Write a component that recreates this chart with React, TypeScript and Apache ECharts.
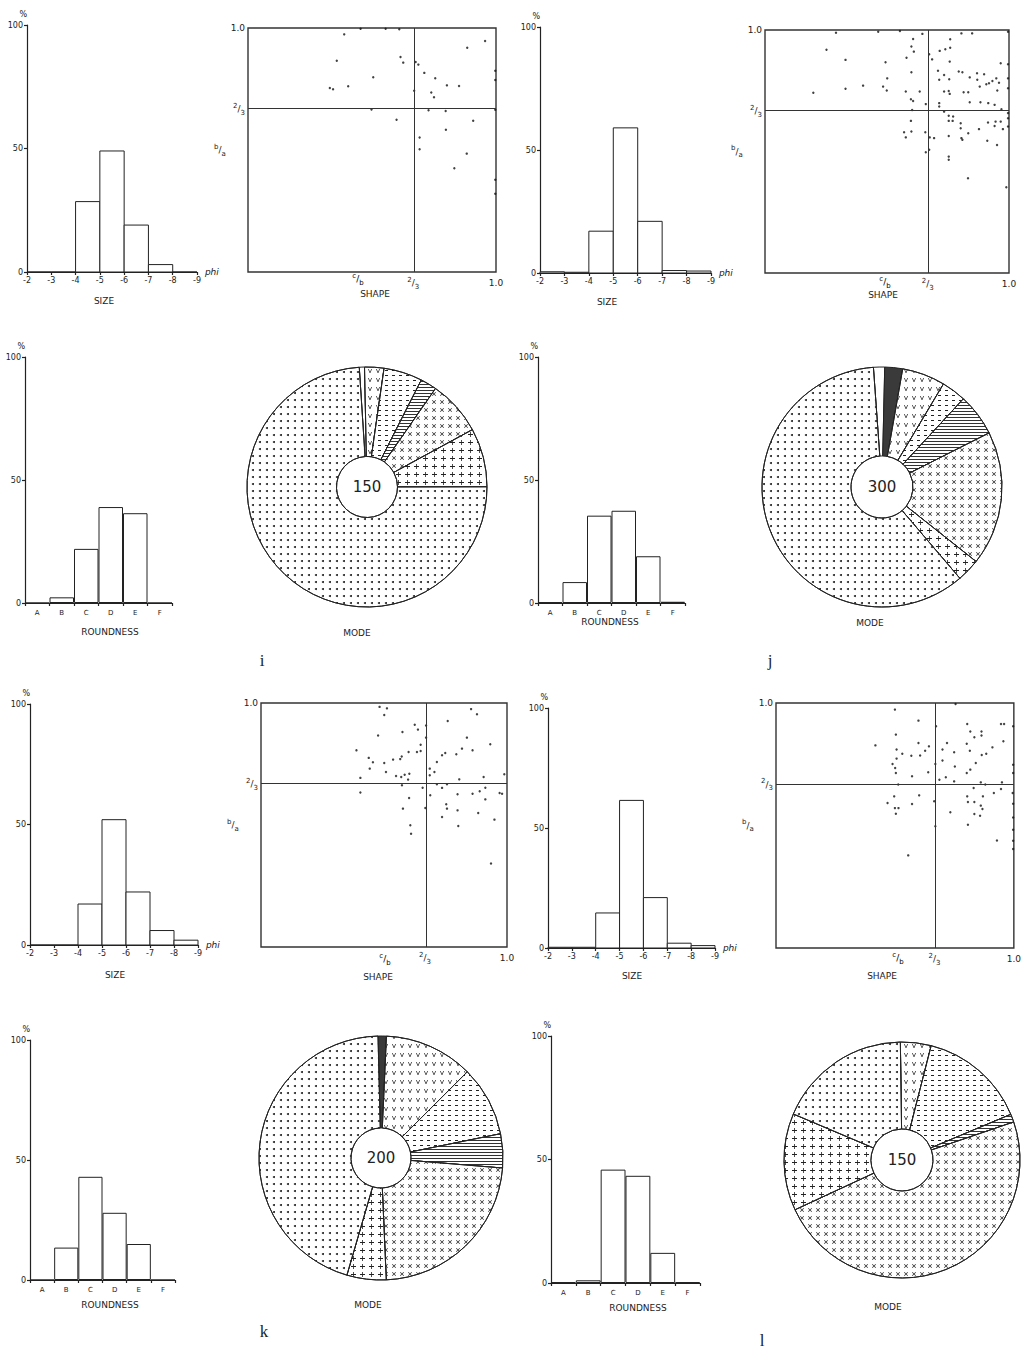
import React, { useEffect, useRef } from "react";
import * as echarts from "echarts";

// ---------- DATA ----------
const PHI_EDGES = [-2, -3, -4, -5, -6, -7, -8, -9];
const SIZE_I = [0, 0, 28.5, 49, 19, 3, 0];
const SIZE_J = [0.5, 0.3, 17, 59, 21, 1, 0.8];
const SIZE_K = [0, 0, 17, 52, 22, 6, 2];
const SIZE_L = [0.3, 0.3, 14.6, 61.5, 21, 2, 1];

const ROUND_CATS = ["A", "B", "C", "D", "E", "F"];
const ROUND_I = [0, 2.3, 22, 39, 36.5, 0];
const ROUND_J = [0.3, 8.5, 35.5, 37.5, 19, 0.5];
const ROUND_K = [0, 13.5, 43, 28, 15, 0];
const ROUND_L = [0.3, 1.1, 45.9, 43.4, 12.2, 0.3];

const MODE_CATS = ["white", "dark", "v", "dash", "hatch", "cross", "plus", "dots"];
const MODE_I = [0.7, 0, 2.6, 5.2, 2.2, 7.4, 7.9, 74];
const MODE_J = [1.5, 2.4, 5.8, 3.3, 5.7, 18.1, 3.1, 60.1];
const MODE_K = [0, 1.1, 11.8, 9.3, 4.5, 23, 5.2, 45.1];
const MODE_L = [0, 0, 4.2, 14.7, 1.1, 48.3, 13.3, 18.4];
const MODE_N = ["150", "300", "200", "150"];
// clockwise offset (deg) from 12 o'clock where the first slice begins
const MODE_START = [-3.7, -4.1, -1.4, -0.8];

const SHAPE_I = [
  [0.388, 0.974], [0.358, 0.866], [0.33, 0.754], [0.343, 0.749], [0.404, 0.761], [0.505, 0.798],
  [0.498, 0.666], [0.454, 0.997], [0.555, 0.997], [0.61, 0.995], [0.615, 0.881], [0.626, 0.858],
  [0.599, 0.624], [0.67, 0.743], [0.676, 0.861], [0.687, 0.85], [0.711, 0.816], [0.755, 0.794],
  [0.739, 0.736], [0.75, 0.716], [0.802, 0.765], [0.851, 0.762], [0.884, 0.919], [0.956, 0.947],
  [0.997, 0.825], [0.997, 0.787], [0.997, 0.665], [0.728, 0.663], [0.797, 0.66], [0.908, 0.62],
  [0.798, 0.583], [0.692, 0.551], [0.692, 0.503], [0.882, 0.485], [0.832, 0.425], [0.997, 0.378],
  [0.997, 0.321],
];
const SHAPE_J = [
  [0.291, 0.989], [0.252, 0.919], [0.33, 0.877], [0.198, 0.742], [0.33, 0.758], [0.402, 0.771],
  [0.464, 0.993], [0.494, 0.867], [0.501, 0.801], [0.484, 0.767], [0.499, 0.751], [0.553, 0.996],
  [0.607, 0.963], [0.6, 0.932], [0.61, 0.911], [0.58, 0.886], [0.6, 0.826], [0.577, 0.747],
  [0.634, 0.747], [0.598, 0.715], [0.607, 0.708], [0.603, 0.671], [0.598, 0.626], [0.57, 0.579],
  [0.6, 0.582], [0.577, 0.558], [0.645, 0.984], [0.673, 0.9], [0.685, 0.879], [0.659, 0.695],
  [0.657, 0.579], [0.675, 0.558], [0.693, 0.555], [0.659, 0.497], [0.673, 0.507], [0.716, 0.914],
  [0.739, 0.921], [0.759, 0.927], [0.759, 0.962], [0.757, 0.87], [0.709, 0.832], [0.734, 0.815],
  [0.755, 0.797], [0.714, 0.795], [0.734, 0.747], [0.753, 0.749], [0.757, 0.737], [0.714, 0.699],
  [0.714, 0.685], [0.734, 0.664], [0.753, 0.647], [0.771, 0.644], [0.753, 0.626], [0.769, 0.626],
  [0.753, 0.564], [0.753, 0.479], [0.753, 0.466], [0.805, 0.986], [0.849, 0.986], [0.794, 0.829],
  [0.809, 0.826], [0.839, 0.805], [0.814, 0.744], [0.833, 0.744], [0.839, 0.703], [0.802, 0.616],
  [0.802, 0.596], [0.805, 0.555], [0.809, 0.548], [0.833, 0.575], [0.832, 0.39], [0.869, 0.822],
  [0.898, 0.818], [0.87, 0.795], [0.88, 0.767], [0.907, 0.777], [0.918, 0.781], [0.932, 0.79],
  [0.948, 0.801], [0.959, 0.783], [0.952, 0.751], [0.966, 0.863], [0.883, 0.703], [0.915, 0.699],
  [0.941, 0.692], [0.969, 0.674], [0.877, 0.592], [0.914, 0.619], [0.945, 0.623], [0.966, 0.623],
  [0.941, 0.605], [0.975, 0.592], [0.911, 0.544], [0.951, 0.527], [0.996, 0.993], [0.996, 0.859],
  [0.996, 0.801], [0.996, 0.76], [0.996, 0.658], [0.996, 0.637], [0.996, 0.603], [0.989, 0.353],
];
const SHAPE_K = [
  [0.482, 0.984], [0.512, 0.978], [0.501, 0.951], [0.476, 0.867], [0.388, 0.806], [0.438, 0.775],
  [0.455, 0.757], [0.442, 0.731], [0.501, 0.754], [0.508, 0.717], [0.404, 0.693], [0.404, 0.633],
  [0.537, 0.768], [0.566, 0.77], [0.572, 0.781], [0.575, 0.881], [0.625, 0.911], [0.638, 0.891],
  [0.6, 0.799], [0.634, 0.799], [0.649, 0.803], [0.649, 0.829], [0.549, 0.701], [0.57, 0.697],
  [0.573, 0.663], [0.584, 0.706], [0.598, 0.686], [0.603, 0.71], [0.602, 0.611], [0.577, 0.567],
  [0.607, 0.499], [0.61, 0.464], [0.657, 0.653], [0.671, 0.858], [0.671, 0.908], [0.668, 0.57],
  [0.686, 0.731], [0.686, 0.704], [0.688, 0.622], [0.705, 0.717], [0.715, 0.758], [0.736, 0.786],
  [0.749, 0.795], [0.715, 0.667], [0.736, 0.652], [0.756, 0.667], [0.736, 0.533], [0.753, 0.585],
  [0.756, 0.567], [0.759, 0.926], [0.794, 0.79], [0.806, 0.687], [0.799, 0.626], [0.799, 0.56],
  [0.802, 0.496], [0.817, 0.813], [0.837, 0.858], [0.854, 0.975], [0.878, 0.954], [0.86, 0.806],
  [0.86, 0.628], [0.883, 0.549], [0.889, 0.638], [0.905, 0.697], [0.912, 0.653], [0.912, 0.605],
  [0.932, 0.831], [0.97, 0.631], [0.98, 0.628], [0.989, 0.708], [0.949, 0.522], [0.935, 0.342],
];
const SHAPE_L = [
  [0.5, 0.973], [0.418, 0.827], [0.504, 0.871], [0.507, 0.81], [0.507, 0.773], [0.49, 0.751],
  [0.501, 0.735], [0.504, 0.714], [0.531, 0.793], [0.569, 0.785], [0.606, 0.786], [0.599, 0.837],
  [0.627, 0.805], [0.643, 0.823], [0.599, 0.928], [0.572, 0.701], [0.64, 0.717], [0.514, 0.667],
  [0.497, 0.619], [0.469, 0.592], [0.5, 0.571], [0.515, 0.571], [0.504, 0.548], [0.572, 0.588],
  [0.602, 0.623], [0.556, 0.378], [0.673, 0.905], [0.67, 0.751], [0.665, 0.599], [0.67, 0.497],
  [0.687, 0.687], [0.7, 0.81], [0.7, 0.765], [0.719, 0.837], [0.714, 0.697], [0.749, 0.799],
  [0.752, 0.741], [0.749, 0.68], [0.733, 0.554], [0.755, 0.996], [0.804, 0.914], [0.817, 0.884],
  [0.834, 0.86], [0.864, 0.884], [0.864, 0.867], [0.802, 0.834], [0.815, 0.805], [0.802, 0.714],
  [0.817, 0.728], [0.84, 0.755], [0.865, 0.788], [0.884, 0.793], [0.91, 0.819], [0.804, 0.619],
  [0.807, 0.596], [0.831, 0.653], [0.834, 0.596], [0.834, 0.547], [0.861, 0.581], [0.87, 0.619],
  [0.858, 0.54], [0.868, 0.567], [0.807, 0.503], [0.861, 0.676], [0.88, 0.667], [0.916, 0.633],
  [0.929, 0.439], [0.946, 0.914], [0.959, 0.914], [0.956, 0.844], [0.95, 0.676], [0.946, 0.649],
  [0.997, 0.905], [0.997, 0.748], [0.997, 0.714], [0.995, 0.633], [0.997, 0.589], [0.997, 0.533],
  [0.997, 0.483], [0.997, 0.438], [0.997, 0.404],
];

const CAPTIONS: [string, number, number][] = [
  ["SIZE", 104, 301], ["SHAPE", 375, 294], ["ROUNDNESS", 110, 632], ["MODE", 357, 633],
  ["SIZE", 607, 302], ["SHAPE", 883, 295], ["ROUNDNESS", 610, 622], ["MODE", 870, 623],
  ["SIZE", 115, 975], ["SHAPE", 378, 977], ["ROUNDNESS", 110, 1305], ["MODE", 368, 1305],
  ["SIZE", 632, 976], ["SHAPE", 882, 976], ["ROUNDNESS", 638, 1308], ["MODE", 888, 1307],
];
const LETTERS: [string, number, number][] = [
  ["i", 262, 660], ["j", 770, 660], ["k", 264, 1331], ["l", 762, 1340],
];

// ---------- LAYOUT / STYLE ----------
const SIZE_DATA = [SIZE_I, SIZE_J, SIZE_K, SIZE_L];
const ROUND_DATA = [ROUND_I, ROUND_J, ROUND_K, ROUND_L];
const MODE_DATA = [MODE_I, MODE_J, MODE_K, MODE_L];
const SHAPE_DATA = [SHAPE_I, SHAPE_J, SHAPE_K, SHAPE_L];

const PANEL_LAYOUT = [
  {
    size: { left: 27, top: 25, width: 170, height: 247 },
    shape: { left: 248, top: 28, width: 248, height: 244 },
    round: { left: 25, top: 357, width: 147, height: 246 },
    pie: { center: [367, 487], radius: [30.5, 120] },
    cb: [358, 279],
  },
  {
    size: { left: 540, top: 27, width: 171, height: 246 },
    shape: { left: 765, top: 30, width: 244, height: 243 },
    round: { left: 538, top: 357, width: 147, height: 246 },
    pie: { center: [882, 487], radius: [31, 120] },
    cb: [885, 282],
  },
  {
    size: { left: 30, top: 704, width: 168, height: 241 },
    shape: { left: 261, top: 703, width: 246, height: 244 },
    round: { left: 30, top: 1040, width: 145, height: 240 },
    pie: { center: [381, 1158], radius: [30, 122] },
    cb: [385, 959],
  },
  {
    size: { left: 548, top: 708, width: 167, height: 240 },
    shape: { left: 776, top: 703, width: 245, height: 245 },
    round: { left: 551, top: 1036, width: 149, height: 247 },
    pie: { center: [902, 1160], radius: [31, 118] },
    cb: [898, 958],
  },
];

const INK = "#222";
const SANS = "DejaVu Sans";

const FILLS: Record<string, string> = {
  white: "#fff", dark: "#3a3a3a", v: "#fff", dash: "#fff", hatch: "#fff",
  cross: "#fff", plus: "#fff", dots: "#fff",
};
const DECALS: Record<string, any> = {
  v: {
    symbol: "path://M0,0L1.8,0L5,7.5L8.2,0L10,0L5.8,10L4.2,10Z",
    symbolSize: 1, color: INK,
    dashArrayX: [3.6, 3.2], dashArrayY: [3.8, 4.2],
  },
  dash: {
    symbol: "rect", symbolSize: 1, color: INK,
    dashArrayX: [3, 3.5], dashArrayY: [0.9, 4],
  },
  hatch: {
    symbol: "rect", symbolSize: 1, color: "#333",
    dashArrayX: [1, 0], dashArrayY: [0.7, 1.4],
  },
  cross: {
    symbol: "path://M0,1.2L1.2,0L5,3.8L8.8,0L10,1.2L6.2,5L10,8.8L8.8,10L5,6.2L1.2,10L0,8.8L3.8,5Z",
    symbolSize: 1, color: INK,
    dashArrayX: [3.4, 4], dashArrayY: [3.4, 3.6],
  },
  plus: {
    symbol: "path://M4.2,0H5.8V4.2H10V5.8H5.8V10H4.2V5.8H0V4.2H4.2Z",
    symbolSize: 1, color: INK,
    dashArrayX: [4.6, 3.2], dashArrayY: [4.6, 2.4],
  },
  dots: {
    symbol: "circle", symbolSize: 1, color: INK,
    dashArrayX: [1.3, 4.4], dashArrayY: [1.3, 4.4],
  },
};

const axisLineStyle = { color: INK, width: 1.2 };
const fracRich = {
  s: { fontSize: 7, lineHeight: 8, verticalAlign: "top", color: INK, fontFamily: SANS },
  m: { fontSize: 9, lineHeight: 14, color: INK, fontFamily: SANS },
  b: { fontSize: 7, lineHeight: 8, verticalAlign: "bottom", color: INK, fontFamily: SANS },
};
const isTwoThirds = (v: number) => Math.abs(v - 2 / 3) < 1e-6;
const fracLabel = (v: number) => (isTwoThirds(v) ? "{s|2}{m|/}{b|3}" : "{m|1.0}");

function buildOption() {
  const grid: any[] = [];
  const xAxis: any[] = [];
  const yAxis: any[] = [];
  const series: any[] = [];

  PANEL_LAYOUT.forEach((lay, p) => {
    // ---- size histogram ----
    const gS = grid.length;
    grid.push({ ...lay.size, containLabel: false });
    xAxis.push({
      gridIndex: gS, type: "value", min: -9, max: -2, interval: 1, inverse: true,
      axisLine: { show: true, onZero: false, lineStyle: axisLineStyle },
      axisTick: { show: true, length: 3, lineStyle: axisLineStyle },
      axisLabel: { fontSize: 8, margin: 4, color: INK, fontFamily: SANS },
      splitLine: { show: false },
      name: "phi", nameLocation: "start", nameGap: 6,
      nameTextStyle: { fontStyle: "italic", fontSize: 9, color: INK, fontFamily: SANS },
    });
    yAxis.push({
      gridIndex: gS, type: "value", min: 0, max: 100, interval: 50,
      axisLine: { show: true, lineStyle: axisLineStyle },
      axisTick: { show: true, length: 3, lineStyle: axisLineStyle },
      axisLabel: { fontSize: 8, margin: 4, color: INK, fontFamily: SANS },
      splitLine: { show: false },
      name: "%", nameLocation: "end", nameGap: 7,
      nameTextStyle: { fontSize: 8, color: INK, align: "right", fontFamily: SANS },
    });
    const sizeVals = SIZE_DATA[p];
    series.push({
      type: "custom", xAxisIndex: gS, yAxisIndex: gS, silent: true,
      encode: { x: [0, 1], y: 2 },
      data: sizeVals.map((v, k) => [PHI_EDGES[k], PHI_EDGES[k + 1], v]),
      renderItem: (_params: any, api: any) => {
        const a = api.coord([api.value(0), api.value(2)]);
        const b = api.coord([api.value(1), 0]);
        return {
          type: "rect",
          shape: { x: Math.min(a[0], b[0]), y: a[1], width: Math.abs(b[0] - a[0]), height: b[1] - a[1] },
          style: { fill: "#fff", stroke: INK, lineWidth: 1 },
        };
      },
    });

    // ---- shape scatter ----
    const gH = grid.length;
    grid.push({ ...lay.shape, show: true, borderColor: "#333", borderWidth: 1.4, backgroundColor: "transparent" });
    xAxis.push({
      gridIndex: gH, type: "value", min: 0, max: 1,
      axisLine: { show: false }, axisTick: { show: false }, splitLine: { show: false },
      axisLabel: { customValues: [2 / 3, 1], formatter: fracLabel, rich: fracRich, margin: 4 },
    });
    yAxis.push({
      gridIndex: gH, type: "value", min: 0, max: 1,
      axisLine: { show: false }, axisTick: { show: false }, splitLine: { show: false },
      axisLabel: { customValues: [2 / 3, 1], formatter: fracLabel, rich: fracRich, margin: 3 },
      name: "{s|b}{m|/}{b|a}", nameLocation: "middle", nameGap: 2, nameRotate: 0,
      nameTextStyle: { rich: fracRich, align: "right" },
    });
    series.push({
      type: "scatter", xAxisIndex: gH, yAxisIndex: gH, silent: true,
      data: SHAPE_DATA[p], symbolSize: 2.4, itemStyle: { color: "#111" },
      markLine: {
        silent: true, symbol: ["none", "none"], label: { show: false },
        lineStyle: { color: "#333", type: "solid", width: 1 },
        data: [{ xAxis: 2 / 3 }, { yAxis: 2 / 3 }],
      },
    });

    // ---- roundness histogram ----
    const gR = grid.length;
    grid.push({ ...lay.round });
    xAxis.push({
      gridIndex: gR, type: "category", data: ROUND_CATS, boundaryGap: true,
      axisLine: { show: true, lineStyle: axisLineStyle },
      axisTick: { show: true, length: 3, lineStyle: axisLineStyle },
      axisLabel: { fontSize: 7, margin: 6, color: INK, fontFamily: SANS },
      splitLine: { show: false },
    });
    yAxis.push({
      gridIndex: gR, type: "value", min: 0, max: 100, interval: 50,
      axisLine: { show: true, lineStyle: axisLineStyle },
      axisTick: { show: true, length: 3, lineStyle: axisLineStyle },
      axisLabel: { fontSize: 8, margin: 4, color: INK, fontFamily: SANS },
      splitLine: { show: false },
      name: "%", nameLocation: "end", nameGap: 7,
      nameTextStyle: { fontSize: 8, color: INK, align: "right", fontFamily: SANS },
    });
    series.push({
      type: "bar", xAxisIndex: gR, yAxisIndex: gR, silent: true,
      data: ROUND_DATA[p], barCategoryGap: "0%",
      itemStyle: { color: "#fff", borderColor: INK, borderWidth: 1 },
    });

    // ---- mode pie ----
    const modeVals = MODE_DATA[p];
    series.push({
      type: "pie", silent: true, center: lay.pie.center, radius: lay.pie.radius,
      startAngle: 90 - MODE_START[p], clockwise: true,
      label: { show: false }, labelLine: { show: false },
      itemStyle: { borderColor: INK, borderWidth: 1 },
      data: MODE_CATS.map((c, k) => ({
        name: c, value: modeVals[k],
        itemStyle: { color: FILLS[c], decal: DECALS[c] || "none" },
      })).filter((d) => d.value > 0),
    });
  });

  const graphic: any[] = [];
  CAPTIONS.forEach(([t, x, y]) =>
    graphic.push({
      type: "text", x, y, silent: true,
      style: { text: t, fill: INK, font: `9px "${SANS}"`, align: "center", verticalAlign: "middle" },
    })
  );
  LETTERS.forEach(([t, x, y]) =>
    graphic.push({
      type: "text", x, y, silent: true,
      style: { text: t, fill: INK, font: `17px "Liberation Serif"`, align: "center", verticalAlign: "middle" },
    })
  );
  PANEL_LAYOUT.forEach((lay, p) => {
    graphic.push({
      type: "text", x: lay.pie.center[0], y: lay.pie.center[1], silent: true, z: 100,
      style: { text: MODE_N[p], fill: INK, font: `15px "${SANS}"`, align: "center", verticalAlign: "middle" },
    });
    graphic.push({
      type: "text", x: lay.cb[0], y: lay.cb[1], silent: true,
      style: { text: "{s|c}{m|/}{b|b}", rich: fracRich, align: "center", verticalAlign: "middle" },
    });
  });

  return {
    animation: false,
    backgroundColor: "#fff",
    textStyle: { fontFamily: SANS },
    grid, xAxis, yAxis, series, graphic,
  };
}

export default function App() {
  const ref = useRef<HTMLDivElement>(null);
  useEffect(() => {
    if (!ref.current) return;
    const chart = echarts.init(ref.current, null, { renderer: "svg" });
    chart.setOption(buildOption() as any);
    return () => chart.dispose();
  }, []);
  return (
    <div
      ref={ref}
      style={{ position: "absolute", left: 0, top: 0, width: 1024, height: 1350, background: "#fff" }}
    />
  );
}
